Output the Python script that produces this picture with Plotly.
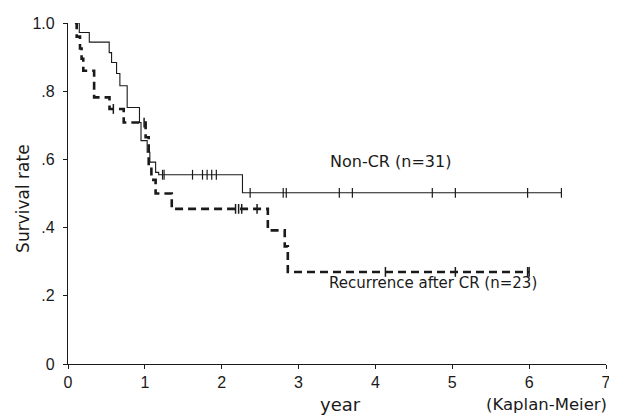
import plotly.graph_objects as go

# Non-CR (n=31): step times (years) and survival after each step
noncr_t = [0.09, 0.147, 0.277, 0.536, 0.567, 0.632, 0.675, 0.77, 0.93, 0.95, 1.03, 1.065, 1.14, 1.18, 2.27, 6.42]
noncr_s = [1.0, 0.972, 0.944, 0.913, 0.884, 0.852, 0.816, 0.752, 0.708, 0.655, 0.621, 0.592, 0.562, 0.555, 0.502, 0.502]
noncr_cens = [1.23, 1.25, 1.62, 1.75, 1.81, 1.87, 1.93, 2.37, 2.80, 2.84, 3.53, 3.70, 4.74, 5.04, 5.98, 6.42]

# Recurrence after CR (n=23)
rec_t = [0.09, 0.113, 0.156, 0.177, 0.199, 0.34, 0.54, 0.725, 1.01, 1.05, 1.085, 1.14, 1.35, 2.60, 2.82, 2.86, 6.00]
rec_s = [1.0, 0.96, 0.925, 0.895, 0.86, 0.782, 0.748, 0.708, 0.665, 0.58, 0.54, 0.50, 0.455, 0.392, 0.345, 0.27, 0.27]
rec_cens = [0.59, 0.99, 2.18, 2.22, 2.26, 2.46, 4.13, 5.04, 5.98, 6.00]

x_ticks = [0, 1, 2, 3, 4, 5, 6, 7]
y_ticks = [0, 0.2, 0.4, 0.6, 0.8, 1.0]
y_ticklabels = ["0", ".2", ".4", ".6", ".8", "1.0"]


def step_value(ts, ss, t):
    v = ss[0]
    for ti, si in zip(ts, ss):
        if ti <= t:
            v = si
    return v


INK = "#1a1a1a"
SANS = "Liberation Sans, Arial, sans-serif"
WIDE = "DejaVu Sans, sans-serif"

fig = go.Figure()
fig.add_trace(go.Scatter(x=noncr_t, y=noncr_s, mode="lines", line=dict(shape="hv", color=INK, width=1.1),
                         showlegend=False, hoverinfo="skip"))
fig.add_trace(go.Scatter(x=noncr_cens, y=[step_value(noncr_t, noncr_s, t) for t in noncr_cens], mode="markers",
                         marker=dict(symbol="line-ns", size=7, line=dict(color=INK, width=1.2)),
                         showlegend=False, hoverinfo="skip"))
fig.add_trace(go.Scatter(x=rec_t, y=rec_s, mode="lines", line=dict(shape="hv", color=INK, width=2.6, dash="8px,5px"),
                         showlegend=False, hoverinfo="skip"))
fig.add_trace(go.Scatter(x=rec_cens, y=[step_value(rec_t, rec_s, t) for t in rec_cens], mode="markers",
                         marker=dict(symbol="line-ns", size=7, line=dict(color=INK, width=1.5)),
                         showlegend=False, hoverinfo="skip"))

fig.add_annotation(x=4.19, y=0.594, text="Non-CR (n=31)", showarrow=False, font=dict(size=16, color=INK, family=WIDE))
fig.add_annotation(x=4.75, y=0.237, text="Recurrence after CR (n=23)", showarrow=False, font=dict(size=15, color=INK, family=WIDE))
fig.add_annotation(xref="paper", yref="paper", x=-0.085, y=0.485, xanchor="center", yanchor="middle",
                   text="Survival rate", textangle=-90,
                   showarrow=False, font=dict(size=17, color=INK, family=WIDE))
fig.add_annotation(xref="paper", yref="paper", x=0.507, y=-0.118, xanchor="center", yanchor="middle",
                   text="year", showarrow=False, font=dict(size=18, color=INK, family=WIDE))
fig.add_annotation(xref="paper", yref="paper", x=0.89, y=-0.12, xanchor="center", yanchor="middle",
                   text="(Kaplan-Meier)", showarrow=False, font=dict(size=16.5, color=INK, family=WIDE))

fig.update_layout(
    width=609, height=409,
    margin=dict(l=60, r=6.5, t=13.5, b=53),
    paper_bgcolor="white", plot_bgcolor="white",
    xaxis=dict(range=[0, 7], tickvals=x_ticks, ticktext=[str(v) for v in x_ticks], showgrid=False, zeroline=False,
               showline=True, linecolor=INK, linewidth=1.2, ticks="outside", ticklen=4, tickcolor=INK,
               tickfont=dict(size=16, color=INK, family=SANS)),
    yaxis=dict(range=[0, 1.0], tickvals=y_ticks, ticktext=y_ticklabels, showgrid=False, zeroline=False,
               showline=True, linecolor=INK, linewidth=1.2, ticks="outside", ticklen=4, tickcolor=INK,
               ticklabelstandoff=5, tickfont=dict(size=16, color=INK, family=SANS)),
)

fig.write_html("out.html")
